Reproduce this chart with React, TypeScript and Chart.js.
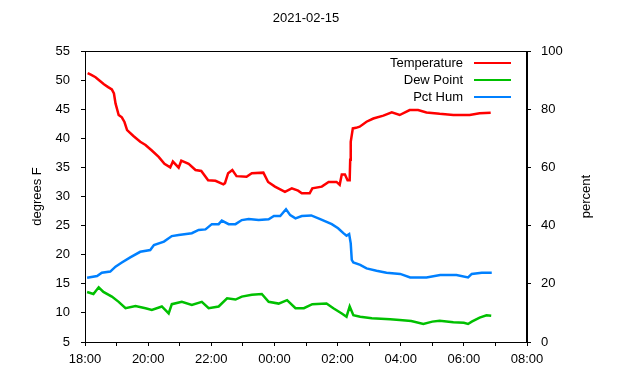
import React, { useEffect, useRef } from "react";
import { Chart, registerables } from "chart.js";

Chart.register(...registerables);

// minutes since 18:00
const tempTimes = [5, 12, 20, 28, 36, 44, 51, 55, 58, 64, 70, 75, 80, 92, 105, 115, 127, 140, 151, 162, 167, 178, 183, 197, 210, 221, 234, 248, 263, 266, 272, 280, 288, 307, 317, 339, 348, 361, 380, 393, 405, 412, 427, 432, 450, 463, 478, 484, 488, 494, 499, 503, 504, 505, 509, 515, 522, 535, 548, 567, 583, 598, 617, 633, 649, 674, 700, 731, 750, 771];
const tempValues = [51.2, 50.9, 50.5, 49.9, 49.3, 48.8, 48.4, 47.7, 46.0, 44.0, 43.6, 42.8, 41.4, 40.4, 39.4, 38.85, 37.9, 36.8, 35.6, 35.0, 36.0, 34.95, 36.15, 35.6, 34.55, 34.4, 32.8, 32.7, 32.1, 32.3, 34.0, 34.55, 33.5, 33.4, 34.0, 34.1, 32.5, 31.7, 30.8, 31.4, 31.0, 30.55, 30.55, 31.4, 31.7, 32.5, 32.5, 32.0, 33.8, 33.8, 32.8, 32.8, 36.3, 39.4, 41.7, 41.8, 42.0, 42.85, 43.4, 43.9, 44.45, 44.0, 44.85, 44.85, 44.45, 44.2, 44.0, 44.0, 44.3, 44.4];

const dewTimes = [4, 16, 26, 35, 51, 64, 77, 96, 115, 127, 146, 159, 165, 184, 203, 222, 235, 254, 270, 286, 298, 317, 336, 349, 368, 384, 400, 416, 432, 459, 472, 488, 497, 503, 510, 523, 545, 580, 598, 620, 643, 660, 674, 700, 720, 728, 735, 750, 763, 772];
const dewValues = [13.6, 13.25, 14.4, 13.6, 12.8, 11.9, 10.8, 11.2, 10.8, 10.5, 11.1, 9.9, 11.5, 11.9, 11.35, 11.9, 10.8, 11.1, 12.5, 12.3, 12.8, 13.1, 13.25, 11.9, 11.6, 12.2, 10.8, 10.8, 11.5, 11.6, 10.8, 9.9, 9.35, 11.1, 9.6, 9.35, 9.07, 8.9, 8.78, 8.6, 8.1, 8.5, 8.67, 8.4, 8.3, 8.1, 8.5, 9.2, 9.6, 9.5];

const humTimes = [4, 23, 32, 48, 58, 70, 86, 105, 124, 131, 150, 165, 178, 203, 216, 229, 241, 254, 260, 273, 286, 298, 311, 330, 349, 359, 371, 382, 390, 400, 412, 430, 447, 469, 481, 491, 497, 502, 505, 507, 510, 523, 535, 554, 573, 599, 618, 649, 675, 706, 728, 735, 754, 773];
const humValues = [22.1, 22.7, 23.8, 24.2, 25.9, 27.3, 29.1, 31.0, 31.6, 33.3, 34.5, 36.4, 36.8, 37.4, 38.5, 38.7, 40.5, 40.5, 41.7, 40.5, 40.5, 41.9, 42.3, 41.9, 42.2, 43.3, 43.3, 45.6, 43.6, 42.5, 43.3, 43.5, 42.2, 40.5, 39.1, 37.4, 36.5, 37.1, 33.9, 28.2, 27.3, 26.5, 25.3, 24.5, 23.8, 23.4, 22.2, 22.2, 23.0, 23.0, 22.2, 23.4, 23.8, 23.8];

const seriesNames = ["Temperature", "Dew Point", "Pct Hum"];
const seriesColors = ["#ff0000", "#00c000", "#0080ff"];
const titleText = "2021-02-15";
const leftTitle = "degrees F";
const rightTitle = "percent";

const FONT = "Liberation Sans, Arial, sans-serif";

const pts = (t: number[], v: number[]) => t.map((x, i) => ({ x, y: v[i] }));

const fmtTime = (v: number) => {
  const h = (18 + Math.round(v / 60)) % 24;
  return (h < 10 ? "0" : "") + h + ":00";
};

const decorPlugin = {
  id: "decor",
  afterDraw(chart: any) {
    const { ctx, chartArea } = chart;
    const { left, right, top, bottom } = chartArea;
    ctx.save();
    ctx.strokeStyle = "#000";
    ctx.lineWidth = 1;
    ctx.strokeRect(left + 0.5, top + 0.5, right - left - 1, bottom - top);
    ctx.fillStyle = "#000";
    ctx.font = `13px ${FONT}`;
    ctx.textBaseline = "middle";
    ctx.textAlign = "center";
    ctx.fillText(titleText, (left + right) / 2, 18);
    // legend
    const rows = [63, 80, 97];
    seriesNames.forEach((name, i) => {
      ctx.textAlign = "right";
      ctx.fillStyle = "#000";
      ctx.fillText(name, 463, rows[i]);
      ctx.strokeStyle = seriesColors[i];
      ctx.lineWidth = 2;
      ctx.beginPath();
      ctx.moveTo(474, rows[i]);
      ctx.lineTo(511, rows[i]);
      ctx.stroke();
    });
    // axis titles
    const cy = (top + bottom) / 2;
    ctx.fillStyle = "#000";
    ctx.textAlign = "center";
    ctx.save();
    ctx.translate(37, cy);
    ctx.rotate(-Math.PI / 2);
    ctx.fillText(leftTitle, 0, 0);
    ctx.restore();
    ctx.save();
    ctx.translate(586, cy);
    ctx.rotate(-Math.PI / 2);
    ctx.fillText(rightTitle, 0, 0);
    ctx.restore();
    ctx.restore();
  },
};

export default function App() {
  const ref = useRef<HTMLCanvasElement | null>(null);
  useEffect(() => {
    document.body.style.margin = "0";
    if (!ref.current) return;
    const axisCommon = {
      grid: { drawOnChartArea: false, tickLength: 4, color: "#000", lineWidth: 1 },
      border: { display: true, color: "#000", width: 1 },
    };
    const chart = new Chart(ref.current, {
      type: "line",
      data: {
        datasets: [
          { label: seriesNames[0], data: pts(tempTimes, tempValues), borderColor: seriesColors[0], yAxisID: "y", borderWidth: 2.5, pointRadius: 0, tension: 0 },
          { label: seriesNames[1], data: pts(dewTimes, dewValues), borderColor: seriesColors[1], yAxisID: "y", borderWidth: 2.5, pointRadius: 0, tension: 0 },
          { label: seriesNames[2], data: pts(humTimes, humValues), borderColor: seriesColors[2], yAxisID: "y2", borderWidth: 2.5, pointRadius: 0, tension: 0 },
        ],
      },
      options: {
        responsive: false,
        animation: false,
        devicePixelRatio: 1,
        layout: { padding: { top: 51, left: 0, right: 0, bottom: 0 } },
        plugins: { legend: { display: false }, title: { display: false }, tooltip: { enabled: false } },
        scales: {
          x: {
            type: "linear",
            min: 0,
            max: 840,
            ...axisCommon,
            ticks: {
              stepSize: 60,
              autoSkip: false,
              maxRotation: 0,
              color: "#000",
              font: { family: FONT, size: 13 },
              padding: 6,
              callback: (v: any) => (Math.round(v / 60) % 2 === 0 ? fmtTime(v) : ""),
            },
            afterFit: (s: any) => { s.height = 38; },
          },
          y: {
            type: "linear",
            position: "left",
            min: 5,
            max: 55,
            ...axisCommon,
            ticks: { stepSize: 5, color: "#000", font: { family: FONT, size: 13 }, padding: 11 },
            afterFit: (s: any) => { s.width = 85; },
          },
          y2: {
            type: "linear",
            position: "right",
            min: 0,
            max: 100,
            ...axisCommon,
            ticks: { stepSize: 20, color: "#000", font: { family: FONT, size: 13 }, padding: 10 },
            afterFit: (s: any) => { s.width = 113; },
          },
        },
      } as any,
      plugins: [decorPlugin],
    });
    return () => chart.destroy();
  }, []);
  return <canvas ref={ref} width={640} height={380} style={{ display: "block", width: 640, height: 380 }} />;
}
